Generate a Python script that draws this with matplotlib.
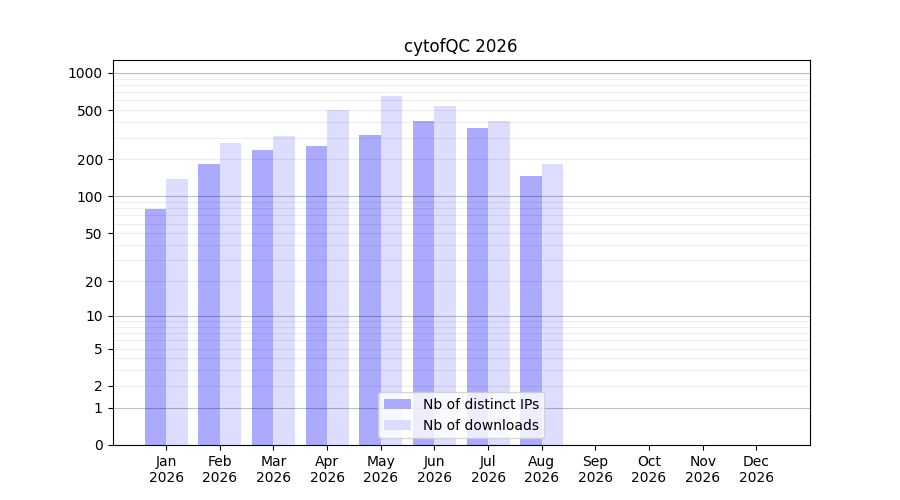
import numpy as np
import matplotlib
matplotlib.use("Agg")
import matplotlib.pyplot as plt

months = ["Jan", "Feb", "Mar", "Apr", "May", "Jun",
          "Jul", "Aug", "Sep", "Oct", "Nov", "Dec"]
year = "2026"
nb_ips = [79, 183, 238, 256, 315, 409, 359, 146, 0, 0, 0, 0]
nb_downloads = [140, 271, 309, 503, 653, 542, 409, 183, 0, 0, 0, 0]
ytick_vals = [0, 1, 2, 5, 10, 20, 50, 100, 200, 500, 1000]
major_grid = [1, 10, 100, 1000]


def fwd(y):
    return np.log10(np.clip(y, 0, None) + 1)


def inv(y):
    return 10 ** y - 1


fig = plt.figure(figsize=(9, 5), dpi=100)
ax = fig.add_subplot(111)
ax.set_yscale("function", functions=(fwd, inv))

x = np.arange(1, len(months) + 1)
w = 0.4
ax.bar(x - w / 2, nb_ips, width=w, color="#aaaaff", label="Nb of distinct IPs", zorder=1)
ax.bar(x + w / 2, nb_downloads, width=w, color="#ddddff", label="Nb of downloads", zorder=1)

# grid lines drawn over the bars, semi-transparent
minor_grid = [m * 10 ** d for d in range(0, 4) for m in range(2, 10)]
for v in minor_grid:
    ax.axhline(v, color="black", alpha=0.07, linewidth=0.8, zorder=2)
for v in major_grid:
    ax.axhline(v, color="black", alpha=0.25, linewidth=0.8, zorder=2)

ax.set_yticks(ytick_vals)
ax.set_yticklabels([str(v) for v in ytick_vals])
ax.minorticks_off()

ax.set_xticks(x)
ax.set_xticklabels([m + "\n" + year for m in months])
ax.set_xlim(0, 13)
ax.set_ylim(0, inv(3.105))
ax.set_title("cytofQC 2026")
ax.legend(loc="lower center")

fig.savefig("out.png")
